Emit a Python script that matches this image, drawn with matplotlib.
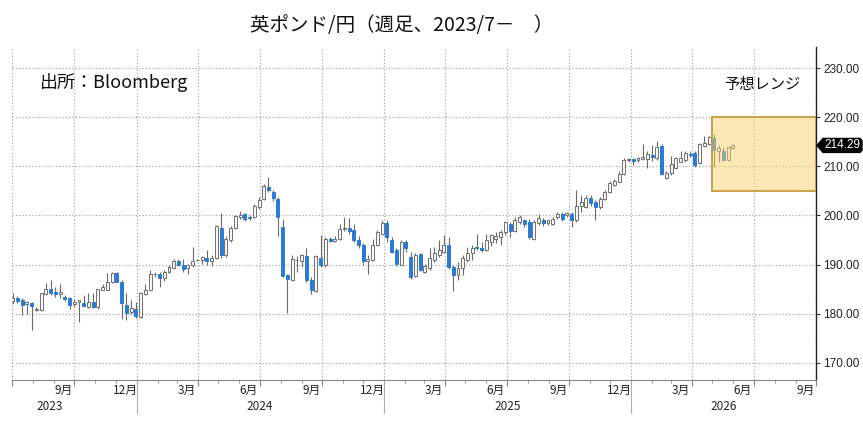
import matplotlib
matplotlib.use('Agg')
import matplotlib.pyplot as plt
import matplotlib.dates as mdates
import matplotlib.transforms as mtrans
from matplotlib.patches import Rectangle, Polygon
import datetime as dt

plt.rcParams['font.family'] = ['Noto Sans CJK JP', 'DejaVu Sans']

# ---------------- data (weekly OHLC, GBP/JPY) ----------------
start_week = dt.date(2023, 7, 2)
opens = [182.6, 183.2, 182.7, 181.9, 182.2, 180.7, 180.7, 183.9, 185.1, 184.4,
         183.9, 183.4, 183.1, 181.9, 182.3, 182.2, 181.4, 182.3, 181.4, 184.9,
         184.8, 186.5, 188.3, 186.5, 181.7, 180.3, 181.0, 179.3, 184.0, 184.7,
         188.0, 188.0, 187.3, 188.5, 189.2, 190.7, 189.8, 189.3, 189.8, 190.9,
         190.9, 191.4, 190.8, 191.4, 197.5, 191.9, 194.9, 197.5, 199.7, 200.3,
         199.6, 199.7, 201.8, 203.4, 205.8, 204.7, 203.4, 197.6, 187.9, 186.9,
         190.9, 190.7, 191.7, 186.8, 184.6, 191.4, 189.8, 195.3, 194.8, 195.3,
         197.3, 197.5, 197.1, 194.9, 193.9, 190.7, 190.9, 194.0, 196.3, 198.4,
         195.0, 192.9, 190.0, 194.6, 191.6, 187.7, 192.1, 188.5, 189.2, 190.9,
         191.9, 192.6, 194.0, 189.4, 187.9, 189.2, 190.9, 192.3, 193.6, 193.4,
         193.0, 194.6, 195.3, 195.6, 196.6, 198.3, 196.9, 198.6, 199.1, 198.6,
         195.3, 198.4, 199.1, 198.4, 198.3, 199.7, 200.3, 200.0, 200.3, 199.0,
         202.0, 201.7, 203.6, 202.7, 201.7, 203.3, 204.8, 206.3, 206.9, 208.4,
         211.4, 211.5, 211.3, 211.6, 211.6, 212.3, 211.7, 214.1, 207.6, 208.6,
         209.7, 211.0, 211.4, 212.5, 212.8, 210.7, 214.1, 214.6, 215.9, 213.1,
         213.2, 211.4, 213.8]
highs = [184.1, 183.5, 183.1, 182.6, 182.4, 181.4, 184.2, 186.3, 186.8, 185.5,
         186.1, 183.8, 183.4, 182.9, 182.7, 183.8, 184.1, 184.1, 185.1, 186.1,
         188.3, 188.5, 188.5, 186.8, 184.2, 182.7, 182.4, 184.4, 186.1, 188.9,
         188.4, 188.5, 188.8, 189.8, 191.2, 191.2, 191.2, 190.2, 193.6, 191.2,
         191.8, 192.9, 192.0, 198.0, 200.5, 195.8, 197.8, 200.2, 201.0, 200.6,
         200.2, 202.3, 203.7, 206.4, 207.9, 205.1, 203.8, 199.3, 188.1, 191.9,
         191.8, 192.2, 193.4, 187.5, 191.9, 196.0, 195.6, 195.7, 195.9, 198.3,
         199.7, 199.4, 198.3, 195.9, 194.4, 192.0, 195.2, 197.0, 199.1, 199.1,
         195.6, 193.3, 194.9, 194.9, 192.6, 192.3, 192.3, 190.1, 193.3, 193.6,
         195.0, 196.0, 195.7, 190.0, 190.5, 191.9, 193.6, 193.9, 196.3, 194.6,
         196.3, 196.3, 196.6, 197.0, 198.9, 198.6, 199.7, 200.0, 199.3, 199.3,
         199.0, 200.3, 199.5, 199.1, 199.7, 200.7, 200.7, 200.7, 200.7, 205.2,
         204.1, 204.1, 204.1, 203.1, 203.7, 205.2, 207.0, 207.4, 209.0, 211.7,
         211.7, 211.7, 212.0, 214.5, 213.1, 214.3, 215.2, 214.5, 209.0, 212.1,
         212.0, 213.1, 213.1, 213.1, 213.1, 214.8, 216.2, 216.2, 216.7, 214.3,
         214.0, 214.0, 214.5]
lows = [181.9, 182.1, 179.7, 179.9, 176.6, 180.6, 180.6, 183.8, 183.8, 183.4,
        183.1, 182.6, 181.0, 181.4, 178.3, 181.4, 181.1, 181.2, 181.0, 184.8,
        184.8, 186.3, 186.4, 178.8, 178.7, 179.9, 179.0, 179.0, 183.8, 184.5,
        187.5, 185.4, 186.7, 188.2, 189.1, 189.6, 188.5, 188.1, 189.4, 190.8,
        190.2, 190.0, 189.7, 191.2, 191.4, 191.5, 194.6, 197.2, 199.3, 198.8,
        199.0, 199.5, 201.4, 203.2, 204.7, 202.9, 195.9, 187.5, 180.1, 186.7,
        188.5, 189.5, 186.4, 183.9, 184.4, 189.5, 189.5, 194.5, 194.6, 194.9,
        196.9, 196.3, 194.6, 193.3, 190.0, 188.1, 190.7, 193.8, 196.1, 194.6,
        192.3, 189.6, 189.9, 192.6, 187.1, 187.5, 188.6, 188.2, 188.9, 190.6,
        191.6, 192.3, 189.1, 184.6, 186.9, 187.9, 190.6, 190.9, 193.0, 192.6,
        192.7, 193.8, 194.4, 193.9, 196.0, 195.6, 196.6, 198.3, 197.6, 195.3,
        195.1, 198.1, 197.9, 198.1, 198.1, 199.3, 198.8, 199.7, 197.6, 198.6,
        200.7, 201.6, 202.0, 199.1, 201.4, 203.1, 204.5, 206.1, 206.8, 208.3,
        211.0, 210.4, 211.0, 211.4, 209.7, 211.1, 211.4, 208.3, 207.4, 208.3,
        209.4, 210.9, 211.0, 212.0, 209.8, 210.5, 213.9, 214.4, 209.8, 211.0,
        211.2, 211.2, 213.6]
closes = [183.2, 182.5, 181.7, 182.4, 181.5, 181.0, 184.1, 185.1, 184.1, 184.0,
          184.4, 182.9, 181.7, 182.4, 182.8, 181.5, 182.4, 181.4, 185.0, 185.5,
          186.5, 188.3, 186.5, 182.1, 180.2, 181.2, 179.5, 184.1, 184.7, 188.1,
          188.1, 187.3, 188.5, 189.5, 190.8, 190.0, 189.0, 190.0, 190.8, 191.0,
          191.5, 190.7, 191.4, 197.8, 191.9, 195.2, 197.5, 199.8, 200.2, 199.3,
          199.5, 202.0, 203.2, 206.1, 205.1, 203.6, 199.7, 187.6, 187.1, 191.2,
          191.0, 191.9, 186.8, 184.9, 191.7, 190.0, 195.3, 194.8, 195.3, 197.3,
          197.5, 196.9, 194.9, 193.9, 190.7, 191.2, 194.0, 196.7, 198.4, 195.7,
          192.6, 190.2, 194.6, 193.3, 187.5, 191.9, 188.9, 189.6, 191.3, 192.3,
          192.9, 194.0, 189.4, 187.9, 189.2, 191.3, 192.3, 193.4, 193.4, 192.9,
          195.0, 196.0, 195.9, 196.6, 198.6, 196.9, 199.0, 199.7, 198.3, 195.6,
          198.6, 199.5, 198.4, 199.0, 199.3, 200.3, 199.3, 200.5, 199.0, 202.0,
          202.7, 203.6, 202.5, 201.8, 203.4, 204.8, 206.6, 207.0, 208.4, 211.4,
          211.5, 211.2, 211.7, 212.0, 212.6, 211.9, 213.9, 208.4, 208.6, 210.5,
          211.7, 211.7, 212.8, 212.3, 210.2, 214.6, 214.8, 216.0, 213.4, 213.8,
          211.4, 213.9, 214.29]

last_price = 214.29
range_low, range_high = 205.0, 220.0
range_start = dt.date(2026, 5, 1)
range_end = dt.date(2026, 10, 1)

y_ticks = [170, 180, 190, 200, 210, 220, 230]
month_labels = ['9月', '12月', '3月', '6月', '9月', '12月', '3月', '6月', '9月', '12月', '3月', '6月', '9月']
month_label_dates = [dt.date(2023, 9, 15), dt.date(2023, 12, 15), dt.date(2024, 3, 15),
                     dt.date(2024, 6, 15), dt.date(2024, 9, 15), dt.date(2024, 12, 15),
                     dt.date(2025, 3, 15), dt.date(2025, 6, 15), dt.date(2025, 9, 15),
                     dt.date(2025, 12, 15), dt.date(2026, 3, 15), dt.date(2026, 6, 15),
                     dt.date(2026, 9, 15)]
year_labels = ['2023', '2024', '2025', '2026']
year_label_dates = [dt.date(2023, 8, 26), dt.date(2024, 7, 1), dt.date(2025, 7, 2), dt.date(2026, 5, 18)]
year_breaks = [dt.date(2024, 1, 1), dt.date(2025, 1, 1), dt.date(2026, 1, 1)]

# ---------------- figure ----------------
fig = plt.figure(figsize=(8.63, 4.22), dpi=100)
ax = fig.add_axes([12 / 863, 1 - 380 / 422, (816 - 12) / 863, (380 - 47) / 422])

BLUE = '#2a7bd6'
GRAYEDGE = '#6f6f6f'
WICK = '#6a6a6a'
body_w = 4.4

dates = [start_week + dt.timedelta(weeks=k) for k in range(len(closes))]
xs = mdates.date2num(dates)
for x, o, h, l, c in zip(xs, opens, highs, lows, closes):
    ax.vlines(x, l, h, color=WICK, lw=0.8, zorder=2)
    up = c >= o
    bottom = min(o, c)
    height = max(abs(c - o), 0.12)
    if up:
        rect = Rectangle((x - body_w / 2, bottom), body_w, height, facecolor='#f7f7f7',
                         edgecolor=GRAYEDGE, lw=0.7, zorder=3)
    else:
        rect = Rectangle((x - body_w / 2, bottom), body_w, height, facecolor=BLUE,
                         edgecolor=BLUE, lw=0.7, zorder=3)
    ax.add_patch(rect)

# forecast range box
r0 = mdates.date2num(range_start)
r1 = mdates.date2num(range_end)
ax.add_patch(Rectangle((r0, range_low), r1 - r0, range_high - range_low,
                       facecolor='#fbd270', alpha=0.5, edgecolor='none', zorder=4))
ax.add_patch(Rectangle((r0, range_low), r1 - r0, range_high - range_low,
                       facecolor='none', edgecolor='#c49a3c', lw=1.3, zorder=5))

# axes limits
ax.set_xlim(mdates.date2num(dt.date(2023, 7, 1)), mdates.date2num(dt.date(2026, 10, 1)))
ax.set_ylim(166.44, 234.37)

# grid / ticks
ax.set_yticks(y_ticks)
ax.yaxis.tick_right()
ax.yaxis.set_major_formatter(matplotlib.ticker.FormatStrFormatter('%.2f'))
ax.tick_params(axis='y', which='major', direction='out', length=3, width=0.8,
               color='#333333', labelsize=8.5, labelcolor='#222222', pad=2)
for lbl in ax.get_yticklabels():
    lbl.set_family(['Liberation Sans', 'DejaVu Sans'])
ax.xaxis.set_major_locator(mdates.MonthLocator(bymonth=[1, 4, 7, 10]))
ax.xaxis.set_minor_locator(mdates.MonthLocator())
ax.xaxis.set_major_formatter(matplotlib.ticker.NullFormatter())
ax.tick_params(axis='x', which='major', direction='out', length=4, width=0.8, color='#888888')
ax.tick_params(axis='x', which='minor', direction='out', length=2.5, width=0.6, color='#888888')
ax.grid(True, which='major', axis='both', linestyle=(0, (1, 2)), color='#9a9a9a', lw=0.8)
ax.set_axisbelow(True)

for s in ['top', 'left']:
    ax.spines[s].set_visible(False)
ax.spines['right'].set_color('#222222')
ax.spines['right'].set_linewidth(1.0)
ax.spines['bottom'].set_color('#888888')
ax.spines['bottom'].set_linewidth(0.8)

trans = mtrans.blended_transform_factory(ax.transData, ax.transAxes)
for lab, d in zip(month_labels, month_label_dates):
    ax.text(mdates.date2num(d), -0.012, lab, transform=trans, ha='center', va='top',
            fontsize=8.5, color='#222222')
for lab, d in zip(year_labels, year_label_dates):
    ax.text(mdates.date2num(d), -0.06, lab, transform=trans, ha='center', va='top',
            fontsize=8.5, color='#222222')
for d in year_breaks:
    ax.plot([mdates.date2num(d)] * 2, [0, -0.1], transform=trans, color='#b0b0b0',
            lw=0.8, clip_on=False)

# last price label (black tag with left arrow)
ytr = mtrans.blended_transform_factory(ax.transAxes, ax.transData)
px = 1.0 / 804.0   # one pixel in axes x units
pu = 1.0 / 4.915   # one pixel in price units
tag = Polygon([(1.0 + 1 * px, last_price),
               (1.0 + 7 * px, last_price + 7 * pu),
               (1.0 + 44 * px, last_price + 7 * pu),
               (1.0 + 46 * px, last_price + 5 * pu),
               (1.0 + 46 * px, last_price - 5 * pu),
               (1.0 + 44 * px, last_price - 7 * pu),
               (1.0 + 7 * px, last_price - 7 * pu)],
              closed=True, transform=ytr, facecolor='black', edgecolor='black',
              clip_on=False, zorder=10)
ax.add_patch(tag)
ax.text(1.0 + 26.5 * px, last_price, f'{last_price:.2f}', transform=ytr, ha='center',
        va='center', fontsize=8.5, color='white', family=['Liberation Sans', 'DejaVu Sans'],
        zorder=11, clip_on=False)

# annotations
ax.text(0.0348, 0.892, '出所：Bloomberg', transform=ax.transAxes, ha='left', va='center',
        fontsize=13, color='#111111')
ax.text(0.933, 0.886, '予想レンジ', transform=ax.transAxes, ha='center', va='center',
        fontsize=11, color='#111111')

fig.text(0.466, 0.94, '英ポンド/円（週足、2023/7－　）', ha='center', va='center',
         fontsize=14, color='#111111')

fig.savefig('out.png', dpi=100)
